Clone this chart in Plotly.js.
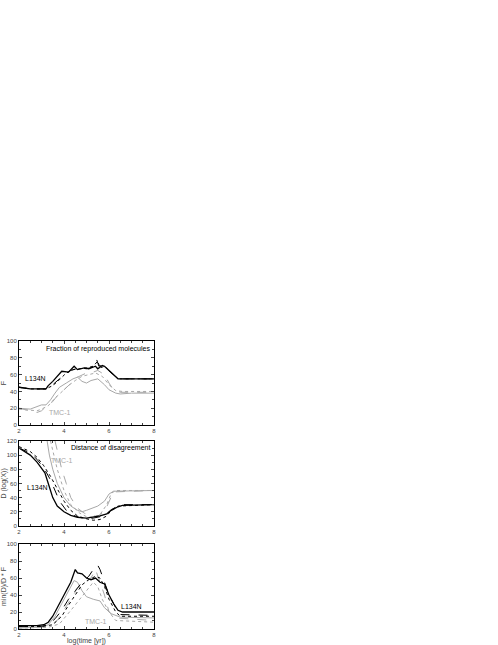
<!DOCTYPE html>
<html>
<head>
<meta charset="utf-8">
<script src="https://cdn.plot.ly/plotly-3.0.1.min.js"></script>
<style>
  html, body { margin: 0; padding: 0; background: #fff; }
  #chart { width: 498px; height: 645px; }
</style>
</head>
<body>
<div id="chart"></div>
<script>
// ---- panel 1: fraction of reproduced molecules (F)
const fL134Solid = { x: [2, 2.5, 3.2, 3.3, 3.5, 3.7, 3.9, 4.2, 4.45, 4.6, 4.9, 5.1, 5.4, 5.5, 5.7, 5.8, 6.0, 6.2, 6.4, 8], y: [45, 43, 43, 47, 52, 58, 64, 63, 70, 66, 68, 67, 70, 67, 71, 70, 65, 60, 55, 55] };
const fL134Dash = { x: [2, 2.5, 3.2, 3.5, 3.8, 4.0, 4.3, 4.7, 5.0, 5.3, 5.45, 5.55, 5.7, 6.0, 6.2, 6.4, 8], y: [45, 43, 43, 48, 55, 60, 65, 68, 67, 69, 78, 70, 71, 65, 60, 55, 55] };
const fL134Dot = { x: [2, 2.5, 3.2, 3.5, 3.8, 4.1, 4.4, 4.7, 5.0, 5.3, 5.5, 5.6, 5.8, 6.0, 6.2, 6.4, 8], y: [45, 43, 43, 47, 54, 62, 66, 67, 68, 70, 76, 68, 70, 65, 60, 55, 55] };
const fTmcSolid = { x: [2, 2.5, 2.8, 3.0, 3.2, 3.4, 3.6, 3.8, 4.1, 4.4, 4.6, 4.8, 5.0, 5.2, 5.5, 5.8, 6.0, 6.3, 6.5, 7, 8], y: [20, 19, 22, 24, 24, 30, 38, 45, 50, 55, 57, 52, 50, 53, 55, 48, 42, 38, 37, 38, 38] };
const fTmcDash = { x: [2, 2.5, 2.8, 3.0, 3.2, 3.5, 3.7, 4.0, 4.3, 4.6, 5.0, 5.3, 5.5, 5.8, 6.0, 6.2, 6.5, 8], y: [20, 17, 15, 17, 22, 28, 35, 42, 50, 57, 62, 63, 65, 60, 50, 42, 39, 39] };
const fTmcDot = { x: [2, 2.5, 2.8, 3.0, 3.3, 3.6, 3.9, 4.2, 4.5, 4.8, 5.1, 5.4, 5.7, 6.0, 6.3, 6.6, 8], y: [19, 18, 17, 19, 23, 32, 40, 47, 53, 58, 60, 62, 58, 48, 41, 40, 40] };

// ---- panel 2: distance of disagreement D
const dL134Solid = { x: [2, 2.5, 2.8, 3.15, 3.35, 3.5, 3.7, 4.0, 4.3, 4.6, 5.0, 5.3, 5.6, 5.9, 6.1, 6.4, 6.6, 8], y: [110, 100, 90, 75, 55, 40, 28, 20, 15, 12, 11, 12, 14, 17, 22, 27, 29, 30] };
const dL134Dash = { x: [2, 2.5, 2.8, 3.1, 3.4, 3.6, 3.8, 4.1, 4.4, 4.7, 5.0, 5.3, 5.6, 5.9, 6.1, 6.4, 6.6, 8], y: [110, 103, 94, 82, 65, 50, 35, 22, 15, 12, 10, 11, 13, 17, 23, 28, 30, 30] };
const dL134Dot = { x: [2, 2.5, 2.8, 3.1, 3.4, 3.7, 4.0, 4.3, 4.6, 5.0, 5.3, 5.6, 5.9, 6.1, 6.4, 8], y: [112, 105, 97, 85, 70, 52, 35, 22, 14, 10, 8, 9, 14, 22, 28, 30] };
const dTmcSolid = { x: [3.25, 3.35, 3.5, 3.7, 4.0, 4.3, 4.6, 4.8, 5.0, 5.3, 5.5, 5.8, 6.0, 6.2, 8], y: [120, 100, 80, 60, 40, 28, 22, 20, 22, 25, 28, 35, 45, 49, 50] };
const dTmcDash = { x: [3.6, 3.75, 3.9, 4.1, 4.3, 4.6, 4.9, 5.2, 5.5, 5.8, 6.0, 6.2, 8], y: [120, 100, 80, 60, 40, 25, 18, 14, 14, 20, 35, 48, 50] };
const dTmcDot = { x: [3.4, 3.7, 4.0, 4.3, 4.7, 5.0, 5.3, 5.6, 5.9, 6.1, 6.3, 8], y: [120, 80, 50, 30, 18, 13, 12, 16, 30, 46, 50, 50] };

// ---- panel 3: min(D)/D * F
const mL134Solid = { x: [2, 2.8, 3.1, 3.3, 3.5, 3.7, 3.9, 4.1, 4.3, 4.5, 4.6, 4.8, 5.0, 5.2, 5.4, 5.6, 5.8, 6.0, 6.2, 6.4, 6.6, 8], y: [4, 4, 5, 8, 15, 25, 35, 45, 55, 70, 66, 65, 60, 58, 60, 55, 53, 40, 30, 22, 20, 20] };
const mL134Dash = { x: [2, 3.0, 3.3, 3.6, 3.9, 4.2, 4.5, 4.8, 5.1, 5.3, 5.5, 5.6, 5.8, 6.0, 6.3, 6.5, 8], y: [3, 3, 5, 12, 22, 35, 45, 55, 62, 70, 75, 70, 55, 40, 25, 17, 16] };
const mL134Dot = { x: [2, 3.0, 3.5, 3.9, 4.2, 4.5, 4.8, 5.1, 5.4, 5.6, 5.8, 6.0, 6.3, 6.5, 8], y: [3, 3, 5, 15, 28, 40, 52, 58, 62, 60, 50, 35, 20, 15, 15] };
const mTmcSolid = { x: [2, 3.0, 3.3, 3.6, 3.9, 4.2, 4.45, 4.6, 4.8, 5.0, 5.3, 5.6, 5.8, 6.1, 6.5, 8], y: [2, 2, 5, 15, 30, 45, 57, 55, 45, 38, 35, 33, 25, 18, 14, 13] };
const mTmcDash = { x: [2, 3.3, 3.7, 4.0, 4.3, 4.6, 4.9, 5.2, 5.4, 5.6, 5.8, 6.0, 6.3, 8], y: [1, 3, 10, 22, 35, 48, 55, 60, 70, 55, 40, 20, 13, 10] };
const mTmcDot = { x: [2, 3.3, 3.8, 4.1, 4.4, 4.7, 5.0, 5.3, 5.5, 5.7, 6.0, 6.3, 8], y: [1, 2, 6, 15, 25, 35, 45, 55, 50, 35, 20, 10, 8] };

const BLACK = "#000";
const GRAY = "#a8a8a8";
const FONT = "Liberation Sans, Arial, sans-serif";

const trace = (d, n, color, dash, width) => ({
  type: "scatter",
  mode: "lines",
  x: d.x,
  y: d.y,
  xaxis: n === 1 ? "x" : "x" + n,
  yaxis: n === 1 ? "y" : "y" + n,
  line: { color: color, dash: dash, width: width },
  showlegend: false,
  hoverinfo: "skip",
});

const data = [
  trace(fTmcSolid, 1, GRAY, "solid", 1),
  trace(fTmcDash, 1, GRAY, "dash", 1),
  trace(fTmcDot, 1, GRAY, "dot", 1),
  trace(fL134Dot, 1, BLACK, "dot", 1),
  trace(fL134Dash, 1, BLACK, "dash", 1),
  trace(fL134Solid, 1, BLACK, "solid", 1.3),

  trace(dTmcSolid, 2, GRAY, "solid", 1),
  trace(dTmcDash, 2, GRAY, "dash", 1),
  trace(dTmcDot, 2, GRAY, "dot", 1),
  trace(dL134Dot, 2, BLACK, "dot", 1),
  trace(dL134Dash, 2, BLACK, "dash", 1),
  trace(dL134Solid, 2, BLACK, "solid", 1.3),

  trace(mTmcSolid, 3, GRAY, "solid", 1),
  trace(mTmcDash, 3, GRAY, "dash", 1),
  trace(mTmcDot, 3, GRAY, "dot", 1),
  trace(mL134Dot, 3, BLACK, "dot", 1),
  trace(mL134Dash, 3, BLACK, "dash", 1),
  trace(mL134Solid, 3, BLACK, "solid", 1.3),
];

const xax = (anchor, title) => ({
  anchor: anchor,
  range: [2, 8],
  dtick: 2,
  ticks: "inside",
  ticklen: 3,
  minor: { dtick: 0.5, ticks: "inside", ticklen: 2 },
  showline: true,
  linecolor: BLACK,
  linewidth: 1,
  mirror: "ticks",
  showgrid: false,
  zeroline: false,
  tickfont: { size: 6, family: FONT },
  title: { text: title, font: { size: 7, family: FONT }, standoff: 2 },
});

const yax = (domain, max, major, minor, title) => ({
  domain: domain,
  range: [0, max],
  dtick: major,
  ticks: "inside",
  ticklen: 3,
  minor: { dtick: minor, ticks: "inside", ticklen: 2 },
  showline: true,
  linecolor: BLACK,
  linewidth: 1,
  mirror: "ticks",
  showgrid: false,
  zeroline: false,
  tickfont: { size: 6, family: FONT },
  title: { text: title, font: { size: 7, family: FONT }, standoff: 3 },
});

const label = (text, x, y, ref, color, anchor) => ({
  text: text,
  x: x,
  y: y,
  xref: ref === 1 ? "x" : "x" + ref,
  yref: ref === 1 ? "y" : "y" + ref,
  showarrow: false,
  xanchor: anchor || "center",
  font: { size: 7, family: FONT, color: color },
});

const layout = {
  width: 498,
  height: 645,
  margin: { l: 19, r: 344, t: 341, b: 16 },
  paper_bgcolor: "#fff",
  plot_bgcolor: "#fff",
  showlegend: false,
  xaxis: xax("y", ""),
  xaxis2: xax("y2", ""),
  xaxis3: xax("y3", "log(time [yr])"),
  yaxis: yax([0.708, 1.0], 100, 20, 10, "F"),
  yaxis2: yax([0.358, 0.653], 120, 20, 10, "D (log(X))"),
  yaxis3: yax([0, 0.295], 100, 20, 10, "min(D)/D * F"),
  annotations: [
    label("Fraction of reproduced molecules", 7.9, 91, 1, BLACK, "right"),
    label("L134N", 2.75, 55, 1, BLACK),
    label("TMC-1", 3.8, 15, 1, GRAY),
    label("Distance of disagreement", 7.9, 110, 2, BLACK, "right"),
    label("TMC-1", 3.9, 93, 2, GRAY),
    label("L134N", 2.8, 54, 2, BLACK),
    label("L134N", 7.0, 27, 3, BLACK),
    label("TMC-1", 5.4, 9, 3, GRAY),
  ],
};

Plotly.newPlot("chart", data, layout, { staticPlot: true, displayModeBar: false });
</script>
</body>
</html>
